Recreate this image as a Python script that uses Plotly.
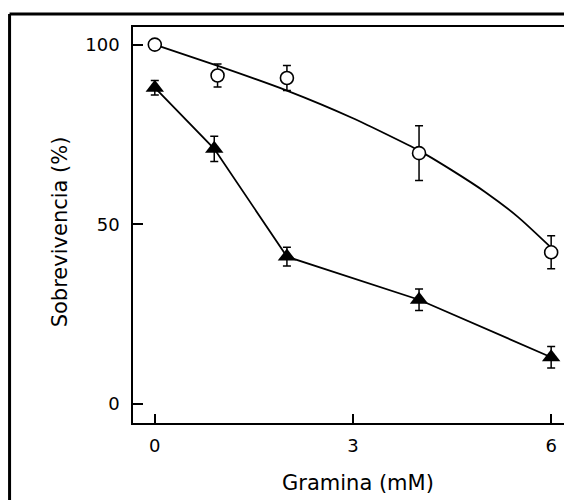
import plotly.graph_objects as go

# --- data ---
circ_x = [0, 0.95, 2, 4, 6]
circ_y = [100, 91.4, 90.7, 69.8, 42.2]
circ_err = [0, 3.2, 3.5, 7.6, 4.6]

tri_x = [0, 0.9, 2, 4, 6]
tri_y = [88, 71, 41, 29, 13]
tri_err = [2, 3.5, 2.6, 3, 3]

# fitted curve through the open circles
fit_x = [0, 1, 2, 3, 4, 4.5, 5, 5.5, 6]
fit_y = [100, 93.8, 87.2, 79.5, 70.5, 65.0, 59.0, 52.0, 43.5]

x_ticks = [0, 3, 6]
y_ticks = [0, 50, 100]

# the page body has an 8px default margin, so the figure is offset by 8px
OFF = 8
W, H = 572 - OFF, 500 - OFF
# plot area in reference pixels: x 133..571, y 27..423
L, R, T, B = 133 - OFF, 1, 27 - OFF, 77
pw, ph = W - L - R, H - T - B

def px(xref_px):
    return (xref_px - OFF - L) / pw

def py(yref_px):
    return (H - B - (yref_px - OFF)) / ph

FONT = "DejaVu Sans"

fig = go.Figure()

fig.add_trace(go.Scatter(
    x=fit_x, y=fit_y, mode="lines",
    line=dict(color="black", width=1.8, shape="spline", smoothing=0.6),
    hoverinfo="skip", showlegend=False))

fig.add_trace(go.Scatter(
    x=tri_x, y=tri_y, mode="lines+markers",
    line=dict(color="black", width=1.8),
    marker=dict(symbol="triangle-up", size=16, color="black"),
    error_y=dict(type="data", array=tri_err, visible=True, color="black", thickness=1.5, width=4),
    showlegend=False))

fig.add_trace(go.Scatter(
    x=circ_x, y=circ_y, mode="markers",
    marker=dict(symbol="circle", size=13, color="white", line=dict(color="black", width=1.6)),
    error_y=dict(type="data", array=circ_err, visible=True, color="black", thickness=1.5, width=4),
    showlegend=False))

fig.update_xaxes(
    range=[-0.33, 6.27], tickvals=x_ticks, ticktext=[str(v) for v in x_ticks],
    ticks="inside", ticklen=9, tickwidth=1.5, tickcolor="black",
    showline=True, linecolor="black", linewidth=1.5, mirror=True,
    showgrid=False, zeroline=False,
    tickfont=dict(family=FONT, size=18, color="black"), ticklabelstandoff=6)
fig.update_yaxes(
    range=[-5.3, 104.9], tickvals=y_ticks, ticktext=[str(v) for v in y_ticks],
    ticks="inside", ticklen=10, tickwidth=1.5, tickcolor="black",
    showline=True, linecolor="black", linewidth=1.5, mirror=True,
    showgrid=False, zeroline=False,
    tickfont=dict(family=FONT, size=18, color="black"), ticklabelstandoff=8)

fig.add_annotation(text="Sobrevivencia (%)", xref="paper", yref="paper",
                   x=px(60), y=py(232), textangle=-90, showarrow=False,
                   xanchor="center", yanchor="middle",
                   font=dict(family=FONT, size=21, color="black"))
fig.add_annotation(text="Gramina (mM)", xref="paper", yref="paper",
                   x=px(359), y=py(483), showarrow=False,
                   xanchor="center", yanchor="middle",
                   font=dict(family=FONT, size=21, color="black"))

# outer frame (left and top edges visible in the reference)
fig.add_shape(type="line", xref="paper", yref="paper",
              x0=px(9), x1=px(9), y0=py(14), y1=py(505),
              line=dict(color="black", width=3))
fig.add_shape(type="line", xref="paper", yref="paper",
              x0=px(9), x1=px(575), y0=py(14), y1=py(14),
              line=dict(color="black", width=3))

fig.update_layout(
    width=W, height=H,
    margin=dict(l=L, r=R, t=T, b=B),
    plot_bgcolor="white", paper_bgcolor="white",
    showlegend=False, hovermode=False)

fig.write_html("out.html")
